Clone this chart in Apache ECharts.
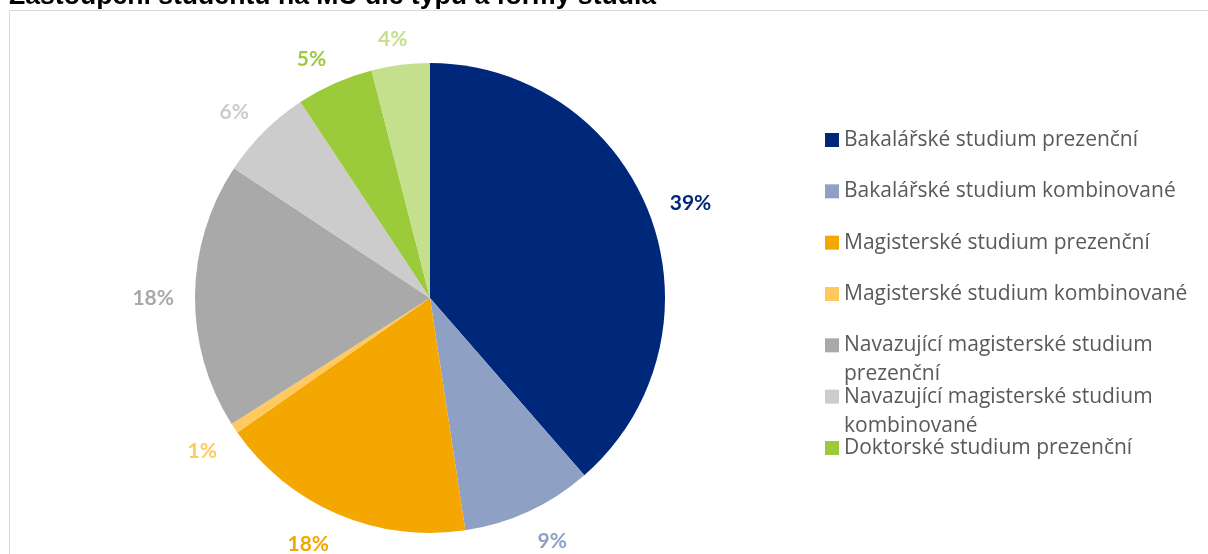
<!DOCTYPE html>
<html>
<head>
<meta charset="utf-8">
<script src="https://cdn.jsdelivr.net/npm/echarts@6/dist/echarts.min.js"></script>
<style>
html,body{margin:0;padding:0;background:#fff;}
#chart{width:1208px;height:554px;}
</style>
</head>
<body>
<div id="chart"></div>
<script>
// ---- data ----
const titleText = 'Zastoupení studentů na MU dle typu a formy studia';
const categories = [
  'Bakalářské studium prezenční',
  'Bakalářské studium kombinované',
  'Magisterské studium prezenční',
  'Magisterské studium kombinované',
  'Navazující magisterské studium prezenční',
  'Navazující magisterské studium kombinované',
  'Doktorské studium prezenční',
  'Doktorské studium kombinované'
];
const shares = [38.6, 9.0, 17.7, 0.7, 18.3, 6.4, 5.3, 4.0];
const legendShown = categories.slice(0, 7);
const colors = ['#00287A', '#8EA0C3', '#F4A700', '#FFC95F', '#A9A9A9', '#CCCCCC', '#9BCB3A', '#C5E08D'];

const chart = echarts.init(document.getElementById('chart'), null, {renderer: 'canvas'});
const center = [430, 298];
const pieRadius = 235;
const labelGap = 21;

// mid-angles of slices (clockwise from 12 o'clock), derived from the data
const total = shares.reduce((a, b) => a + b, 0);
const midAngles = [];
(function () {
  let acc = 0;
  shares.forEach(v => { midAngles.push((acc + v / 2) / total * 2 * Math.PI); acc += v; });
})();
const clamp1 = t => Math.max(-1, Math.min(1, t));

// legend: one entry per block so that wrapped entries keep a constant pitch
const legendFontSize = 21;
const legendWrapWidth = 385;
const legendLineH = 29;
const legendFirstCenter = 140;
const legendPitch = 51.33;
const measureCtx = document.createElement('canvas').getContext('2d');
measureCtx.font = legendFontSize + 'px "Open Sans"';
const legends = legendShown.map((name, i) => {
  const wrapped = measureCtx.measureText(name).width > legendWrapWidth;
  const iconCenter = legendFirstCenter + i * legendPitch;
  return {
    orient: 'vertical',
    left: 825,
    top: iconCenter - (wrapped ? legendLineH * 1.5 : legendLineH / 2),
    padding: 0,
    itemWidth: 14,
    itemHeight: 14,
    icon: 'rect',
    selectedMode: false,
    data: [name],
    // a leading empty line keeps the icon level with the first text line
    formatter: wrapped ? '\n{name}' : '{name}',
    textStyle: {
      fontFamily: 'Open Sans',
      fontSize: legendFontSize,
      color: '#595959',
      width: legendWrapWidth,
      overflow: 'break',
      lineHeight: legendLineH
    }
  };
});

const option = {
  animation: false,
  title: {
    text: titleText,
    left: 9,
    top: -16.5,
    padding: 0,
    textStyle: {fontFamily: 'Liberation Sans', fontWeight: 'bold', fontSize: 26.6, color: '#000'}
  },
  graphic: [{
    type: 'rect',
    shape: {x: 9.5, y: 10.5, width: 1220, height: 600},
    style: {fill: 'none', stroke: '#D9D9D9', lineWidth: 1},
    silent: true,
    z: -10
  }],
  legend: legends,
  series: [
    {
      type: 'pie',
      center: center,
      radius: [0, pieRadius],
      startAngle: 90,
      clockwise: true,
      silent: true,
      avoidLabelOverlap: false,
      itemStyle: {borderWidth: 0},
      labelLine: {show: false},
      label: {
        show: true,
        position: 'outside',
        fontFamily: 'Lato',
        fontWeight: 'bold',
        fontSize: 21,
        formatter: p => Math.round(p.percent) + '%'
      },
      labelLayout: function (p) {
        const ang = midAngles[p.dataIndex];
        const ux = Math.sin(ang), uy = -Math.cos(ang);
        const a = p.labelRect.width / 2, b = 8;
        const R = pieRadius + labelGap;
        return {
          x: center[0] + R * ux + a * clamp1(ux / 0.35),
          y: center[1] + R * uy + b * clamp1(uy / 0.35) + 3,
          align: 'center',
          verticalAlign: 'middle'
        };
      },
      data: categories.map((n, i) => ({
        name: n, value: shares[i],
        itemStyle: {color: colors[i]},
        label: {color: colors[i]}
      }))
    }
  ]
};
chart.setOption(option);
</script>
</body>
</html>
